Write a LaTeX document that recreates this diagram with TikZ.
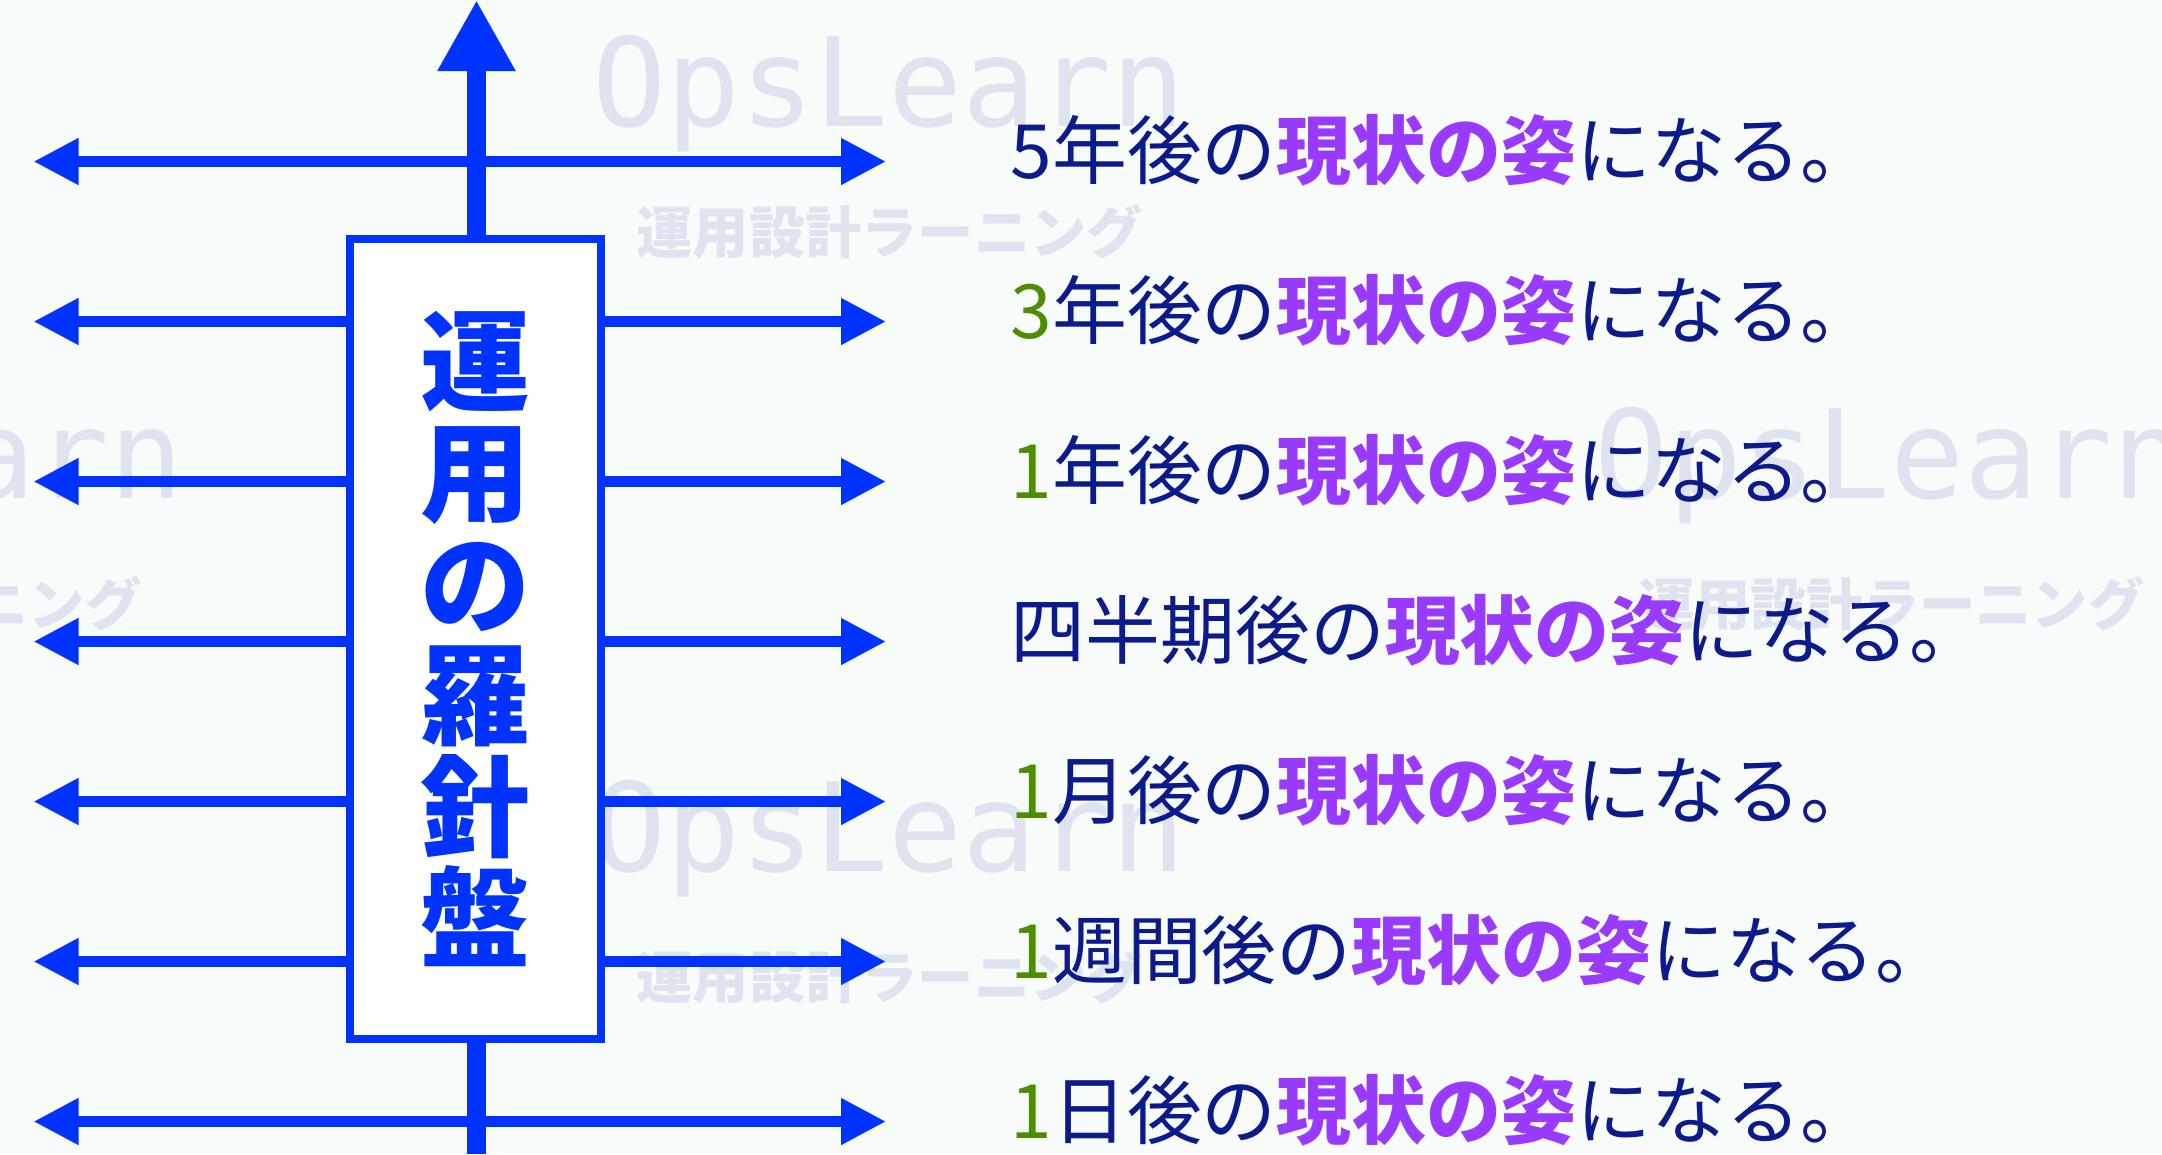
\documentclass[tikz,border=0pt]{standalone}
\usepackage{fontspec}
\setmainfont{Noto Sans CJK JP}
\newfontfamily\brandfont{DejaVu Sans Mono}
\usepackage{tikz}
\usetikzlibrary{arrows.meta, positioning}
\usepackage{xcolor}
\definecolor{arrowblue}{RGB}{0,51,255}
\definecolor{inkblue}{RGB}{12,26,140}
\definecolor{keypurple}{RGB}{153,58,255}
\definecolor{numgreen}{RGB}{78,140,0}
\definecolor{stampgray}{RGB}{223,227,239}
\definecolor{paper}{RGB}{247,251,250}
\newcommand{\hlnum}[1]{\textcolor{numgreen}{#1}}
\newcommand{\hlkey}[1]{{\bfseries\color{keypurple}#1}}
\tikzstyle{compassbox} = [rectangle, 
draw=arrowblue, line width=2.28pt, fill=white, 
minimum width=2.51cm, 
minimum height=8cm, 
align=center, 
text=arrowblue, 
font=\fontsize{31.3}{31.75}\selectfont\bfseries]
\tikzstyle{goal} = [anchor=base west, inner sep=0pt, text=inkblue, font=\fontsize{21.3}{25}\selectfont]
\tikzstyle{stamp} = [anchor=base west, inner sep=0pt, text=stampgray, font=\brandfont\fontsize{35}{40}\selectfont]
\tikzstyle{stampjp} = [anchor=base west, inner sep=0pt, text=stampgray, font=\fontsize{16}{18}\selectfont\bfseries]
\tikzstyle{horizon} = [draw=arrowblue, line width=3.04pt, {Triangle[length=4.5mm, width=4.4mm]}-{Triangle[length=4.5mm, width=4.4mm]}]
\tikzstyle{spine} = [draw=arrowblue, line width=5.3pt, -{Triangle[length=7.1mm, width=7.3mm]}]

\begin{document}
\begin{tikzpicture}[node distance=1.6cm]
	\clip (0,0) rectangle (21.62,-11.54);
	\fill [paper] (0,0) rectangle (21.62,-11.54);
	
	\node (brand0) [stamp] at (-4.097,-4.98) {OpsLearn};
	\node (brand1) [stamp] at (5.92,-1.26) {OpsLearn};
	\node (brand2) [stamp] at (15.937,-4.98) {OpsLearn};
	\node (brand3) [stamp] at (5.92,-8.71) {OpsLearn};
	\node (course0) [stampjp] at (-3.655,-6.25) {運用設計ラーニング};
	\node (course1) [stampjp] at (6.36,-2.53) {運用設計ラーニング};
	\node (course2) [stampjp] at (16.375,-6.25) {運用設計ラーニング};
	\node (course3) [stampjp] at (6.36,-9.98) {運用設計ラーニング};
	
	\coordinate (foot) at (4.765,-11.54);
	\coordinate (peak) at (4.765,0);
	\draw [spine] (foot) -- (peak);
	
	\coordinate (west1) at (0.335,-1.615);
	\coordinate (west2) at (0.335,-3.215);
	\coordinate (west3) at (0.335,-4.815);
	\coordinate (west4) at (0.335,-6.415);
	\coordinate (west5) at (0.335,-8.015);
	\coordinate (west6) at (0.335,-9.615);
	\coordinate (west7) at (0.335,-11.215);
	\coordinate (east1) at (8.86,-1.615);
	\coordinate (east2) at (8.86,-3.215);
	\coordinate (east3) at (8.86,-4.815);
	\coordinate (east4) at (8.86,-6.415);
	\coordinate (east5) at (8.86,-8.015);
	\coordinate (east6) at (8.86,-9.615);
	\coordinate (east7) at (8.86,-11.215);
	
	\draw [horizon] (west1) -- (east1);
	\draw [horizon] (west2) -- (east2);
	\draw [horizon] (west3) -- (east3);
	\draw [horizon] (west4) -- (east4);
	\draw [horizon] (west5) -- (east5);
	\draw [horizon] (west6) -- (east6);
	\draw [horizon] (west7) -- (east7);
	
	\node (compass) [compassbox] at (4.755,-6.39) {運\\用\\の\\羅\\針\\盤};
	
	\node (goal1) [goal] at (10.10,-1.78) {5年後の\hlkey{現状の姿}になる。};
	\node (goal2) [goal] at (10.10,-3.38) {\hlnum{3}年後の\hlkey{現状の姿}になる。};
	\node (goal3) [goal] at (10.10,-4.98) {\hlnum{1}年後の\hlkey{現状の姿}になる。};
	\node (goal4) [goal] at (10.10,-6.58) {四半期後の\hlkey{現状の姿}になる。};
	\node (goal5) [goal] at (10.10,-8.18) {\hlnum{1}月後の\hlkey{現状の姿}になる。};
	\node (goal6) [goal] at (10.10,-9.78) {\hlnum{1}週間後の\hlkey{現状の姿}になる。};
	\node (goal7) [goal] at (10.10,-11.38) {\hlnum{1}日後の\hlkey{現状の姿}になる。};
\end{tikzpicture}
\end{document}
